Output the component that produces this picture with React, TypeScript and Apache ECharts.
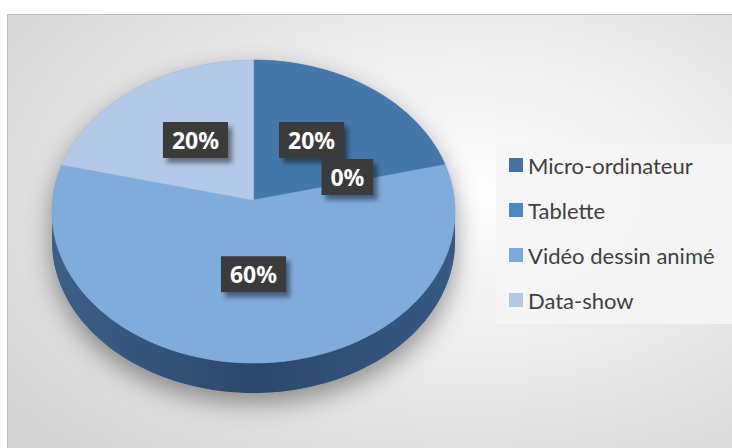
import React, { useEffect, useRef } from "react";
import * as echarts from "echarts";

const categories = ["Micro-ordinateur", "Tablette", "Vidéo dessin animé", "Data-show"];
const values = [20, 0, 60, 20];
const topColors = ["#4677ab", "#4f89c5", "#80acdc", "#b4c8e7"];
const legendColors = ["#4372a3", "#4f89c5", "#7eaadb", "#b4c9e6"];

// geometry of the 3D pie (pixels)
const CX = 253.5, CY = 211.5, RX = 201.5, RY = 151.5;
const AX = 253.5, AY = 200; // apex (perspective)
const DEPTH = 30;

const total = values.reduce((a, b) => a + b, 0);
const starts: number[] = [];
{
  let acc = 0;
  values.forEach((v) => {
    starts.push((acc / total) * 360);
    acc += v;
  });
}

function ept(tDeg: number, dy = 0): number[] {
  const t = (tDeg * Math.PI) / 180;
  return [CX + RX * Math.sin(t), CY - RY * Math.cos(t) + dy];
}
function arc(t0: number, t1: number, dy = 0): number[][] {
  const n = Math.max(2, Math.ceil(Math.abs(t1 - t0) / 1.5));
  const pts: number[][] = [];
  for (let i = 0; i <= n; i++) pts.push(ept(t0 + ((t1 - t0) * i) / n, dy));
  return pts;
}

export default function App() {
  const ref = useRef<HTMLDivElement>(null);
  useEffect(() => {
    if (!ref.current) return;
    const chart = echarts.init(ref.current, undefined, { renderer: "svg" });

    const sideRender = (params: any, api: any) => {
      const i = params.dataIndex;
      const v = api.value(0);
      const children: any[] = [];
      if (i === 0) {
        const sil = [...arc(90, 270, DEPTH), ...arc(270, 450, 0)];
        children.push({
          type: "polygon",
          shape: { points: sil },
          style: {
            fill: "#7a8a9c",
            shadowColor: "rgba(0,0,0,0.4)",
            shadowBlur: 26,
            shadowOffsetY: 10,
          },
        });
      }
      if (v > 0) {
        const t0 = Math.max(starts[i], 90);
        const t1 = Math.min(starts[i] + (v / total) * 360, 270);
        if (t1 > t0) {
          const pts = [...arc(t0, t1, 0), ...arc(t1, t0, DEPTH)];
          children.push({
            type: "polygon",
            shape: { points: pts },
            style: {
              fill: {
                type: "linear",
                x: 0, y: 0, x2: 1, y2: 0,
                colorStops: [
                  { offset: 0, color: "#3d6088" },
                  { offset: 0.5, color: "#2b486c" },
                  { offset: 1, color: "#365a83" },
                ],
              },
            },
          });
        }
      }
      return { type: "group", children };
    };

    const topRender = (params: any, api: any) => {
      const i = params.dataIndex;
      const v = api.value(0);
      if (!(v > 0)) return { type: "group", children: [] };
      const t0 = starts[i];
      const t1 = t0 + (v / total) * 360;
      const pts = [[AX, AY], ...arc(t0, t1, 0)];
      return {
        type: "polygon",
        shape: { points: pts },
        style: { fill: topColors[i], stroke: topColors[i], lineWidth: 0.6 },
      };
    };

    const labelRender = (params: any, api: any) => {
      const i = params.dataIndex;
      const v = api.value(0);
      const mid = starts[i] + ((v / total) * 360) / 2;
      const p = ept(mid);
      const k = 0.49;
      const x = AX + k * (p[0] - CX);
      const y = AY + k * (p[1] - CY);
      return {
        type: "text",
        x,
        y,
        style: {
          text: Math.round((v / total) * 100) + "%",
          fill: "#ffffff",
          font: 'bold 23px "Noto Sans"',
          align: "center",
          verticalAlign: "middle",
          backgroundColor: "#3a3a3a",
          padding: [7, 9, 6, 9],
          shadowColor: "rgba(0,0,0,0.45)",
          shadowBlur: 5,
          shadowOffsetX: 4,
          shadowOffsetY: 5,
        },
      };
    };

    chart.setOption({
      animation: false,
      graphic: [
        {
          type: "rect",
          z: -10,
          silent: true,
          shape: { x: 7.5, y: 14.5, width: 740, height: 450 },
          style: {
            fill: {
              type: "radial",
              x: 0.62, y: 0.4, r: 1.1,
              colorStops: [
                { offset: 0, color: "#ffffff" },
                { offset: 1, color: "#c3c3c3" },
              ],
            },
            stroke: "#bdbdbd",
            lineWidth: 1,
          },
        },
      ],
      legend: {
        orient: "vertical",
        left: 496,
        top: 144,
        selectedMode: false,
        icon: "rect",
        itemWidth: 14,
        itemHeight: 14,
        itemGap: 23,
        padding: [10, 40, 13, 13],
        backgroundColor: "rgba(246,246,246,0.85)",
        textStyle: {
          fontFamily: "Lato",
          fontSize: 22,
          lineHeight: 22,
          color: "#404040",
        },
        data: categories,
      },
      series: [
        {
          type: "pie",
          silent: true,
          radius: [0, 0],
          center: [AX, AY],
          label: { show: false },
          labelLine: { show: false },
          data: categories.map((n, i) => ({
            name: n,
            value: values[i],
            itemStyle: { color: legendColors[i] },
          })),
          z: 0,
        },
        {
          type: "custom",
          coordinateSystem: "none",
          silent: true,
          z: 1,
          data: values,
          renderItem: sideRender,
        },
        {
          type: "custom",
          coordinateSystem: "none",
          silent: true,
          z: 2,
          data: values,
          renderItem: topRender,
        },
        {
          type: "custom",
          coordinateSystem: "none",
          silent: true,
          z: 3,
          data: values,
          renderItem: labelRender,
        },
      ],
    });
    return () => chart.dispose();
  }, []);
  return (
    <div
      ref={ref}
      style={{ position: "fixed", left: 0, top: 0, width: 732, height: 448, background: "#ffffff" }}
    />
  );
}
